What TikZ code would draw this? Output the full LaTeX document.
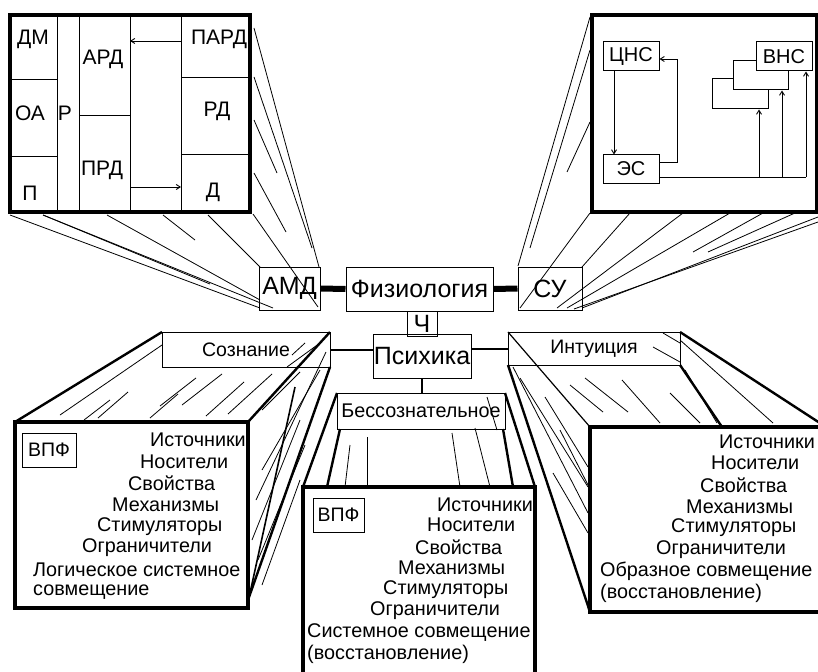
\documentclass[tikz,border=0pt]{standalone}
\usepackage{fontspec}
\setmainfont{Liberation Sans}
\usetikzlibrary{arrows.meta,calc}
\tikzset{
  frame/.style={line width=4pt},
  lbl/.style={draw, line width=1pt, inner sep=0pt, font=\fontsize{25}{25}\selectfont},
  sbox/.style={draw, line width=1pt, inner sep=0pt, font=\fontsize{20}{20}\selectfont},
  txt/.style={inner sep=0pt, font=\fontsize{21}{21}\selectfont},
  lst/.style={inner sep=0pt, anchor=west, font=\fontsize{19.8}{19.8}\selectfont},
  hl/.style={line width=0.8pt},
  edg/.style={line width=2.4pt},
  bus/.style={line width=1pt},
  arr/.style={-{Straight Barb[length=4pt,width=5pt]}, line width=0.9pt},
  heavy/.style={line width=6pt},
  link/.style={line width=2pt},
}
\begin{document}
\begin{tikzpicture}[x=1pt,y=-1pt]
\useasboundingbox (0,0) rectangle (818,671);

% ---------- projection lines: top-left frame -> AMD ----------
\draw[hl] (10,215) -- (260,308);
\draw[hl] (43,215) -- (273,308);
\draw[hl] (43,215) -- (210,284);
\draw[hl] (107,215) -- (260,300);
\draw[hl] (163,215) -- (195,240);
\draw[hl] (208,215) -- (260,267);
\draw[hl] (253,214) -- (318,307);
\draw[hl] (254,28) -- (319,267);
\draw[hl] (254,77) -- (312,248);
\draw[hl] (254,120) -- (277,173);
\draw[hl] (254,173) -- (286,232);

% ---------- projection lines: top-right frame -> SU ----------
\draw[hl] (590,17) -- (518,266);
\draw[hl] (590,50) -- (530,248);
\draw[hl] (590,122) -- (567,172);
\draw[hl] (590,213) -- (520,308);
\draw[hl] (630,213) -- (582,267);
\draw[hl] (683,213) -- (557,308);
\draw[hl] (730,213) -- (567,308);
\draw[hl] (763,213) -- (693,252);
\draw[hl] (795,213) -- (708,252);
\draw[hl] (818,217) -- (582,308);
\draw[hl] (818,222) -- (574,309);

% ---------- top-left frame ----------
\draw[frame] (10,15) rectangle (250,212);
\draw[bus] (57,15) -- (57,212) (79,15) -- (79,212) (130,15) -- (130,212) (181,15) -- (181,212);
\draw[bus] (10,80) -- (57,80) (10,157) -- (57,157) (79,116) -- (130,116)
           (181,78) -- (250,78) (181,155) -- (250,155);
\node[txt] (dm) at (33,39) {ДМ};
\node[txt] (oa) at (30,113) {ОА};
\node[txt] (pp) at (30,193) {П};
\node[txt] (rr) at (65,113) {Р};
\node[txt] (ard) at (103,59) {АРД};
\node[txt] (prd) at (102,170) {ПРД};
\node[txt] (pard) at (219,39) {ПАРД};
\node[txt] (rd) at (217,111) {РД};
\node[txt] (dd) at (213,192) {Д};
\coordinate (pardout) at (181,41);
\coordinate (ardin) at (130,41);
\coordinate (prdout) at (130,187);
\coordinate (ddin) at (181,187);
\draw[arr] (pardout) -- (ardin);
\draw[arr] (prdout) -- (ddin);

% ---------- top-right frame ----------
\draw[frame] (592,15) rectangle (817,212);
\node[sbox, minimum width=56pt, minimum height=30pt] (r3) at (740,94) {};
\node[sbox, fill=white, minimum width=55pt, minimum height=29pt] (r2) at (760.5,75.5) {};
\node[sbox, fill=white, minimum width=56pt, minimum height=29pt] (vns) at (784,56.5) {ВНС};
\node[sbox, minimum width=56pt, minimum height=29pt] (cns) at (631,56.5) {ЦНС};
\node[sbox, minimum width=56pt, minimum height=28pt] (es) at (631,169) {ЭС};
\draw[arr] (cns.south -| 614,0) -- (es.north -| 614,0);
\coordinate (fb1) at (677,162);
\coordinate (fb2) at (677,59);
\draw[arr] (es.east |- fb1) -- (fb1) -- (fb2) -- (cns.east |- fb2);
\coordinate (bus0) at (759,177);
\coordinate (bus1) at (782,177);
\coordinate (bus2) at (806,177);
\draw[bus] (es.east |- bus0) -- (bus2);
\draw[arr] (bus0) -- (r3.south -| bus0);
\draw[arr] (bus1) -- (r2.south -| bus1);
\draw[arr] (bus2) -- (vns.south -| bus2);

% ---------- Soznanie pyramid ----------
\draw[edg] (162,332) -- (15,422);
\draw[edg] (330,332) -- (248,422);
\draw[edg] (330,367) -- (248,600);
\draw[hl] (162,345) -- (60,415);
\draw[hl] (320,343) -- (287,367);
\draw[hl] (305,343) -- (292,355);
\draw[hl] (300,372) -- (262,410);
\draw[hl] (272,374) -- (228,414);
\draw[hl] (244,382) -- (206,416);
\draw[hl] (222,374) -- (182,405);
\draw[hl] (196,378) -- (160,406);
\draw[hl] (178,394) -- (150,418);
\draw[hl] (128,392) -- (98,418);
\draw[hl] (110,400) -- (84,420);
\draw[hl] (326,352) -- (256,500);
\draw[hl] (320,370) -- (262,470);
\draw[line width=1.6pt] (295,387) -- (250,593);
\draw[hl] (300,420) -- (252,540);
\draw[hl] (305,445) -- (258,560);
\draw[hl] (300,480) -- (262,585);

% ---------- Intuitsiya pyramid ----------
\draw[edg] (680,332) -- (826,427);
\draw[edg] (680,365) -- (722,427);
\draw[edg] (508,365) -- (590,612);
\draw[line width=1.2pt] (508,332) -- (590,427);
\draw[hl] (570,385) -- (603,412);
\draw[hl] (585,378) -- (628,412);
\draw[hl] (622,380) -- (660,423);
\draw[hl] (670,393) -- (700,423);
\draw[hl] (653,347) -- (680,362);
\draw[hl] (663,333) -- (680,343);
\draw[hl] (680,340) -- (773,423);
\draw[hl] (685,370) -- (717,423);
\draw[hl] (520,378) -- (588,487);
\draw[hl] (545,397) -- (588,467);
\draw[hl] (560,430) -- (588,485);
\draw[hl] (553,473) -- (588,533);
\draw[hl] (513,367) -- (588,513);

% ---------- Bessoznatelnoe pyramid ----------
\draw[edg] (337,393) -- (303,487);
\draw[edg] (340,429) -- (327,487);
\draw[edg] (503,429) -- (513,487);
\draw[edg] (505,393) -- (535,487);
\draw[hl] (350,445) -- (345,487);
\draw[hl] (367,437) -- (367,487);
\draw[hl] (452,433) -- (460,487);
\draw[hl] (475,428) -- (490,487);
\draw[hl] (487,397) -- (497,430);

% ---------- front boxes ----------
\draw[frame, fill=white] (15,422) rectangle (248,608);
\draw[frame, fill=white] (590,427) rectangle (830,612);
\draw[frame, fill=white] (303,690) -- (303,487) -- (535,487) -- (535,690);

% ---------- labels of the pyramids ----------
\node[lbl, font=\fontsize{19.5}{19.5}\selectfont, minimum width=168pt, minimum height=35pt] (soz) at (246,349.5) {Сознание};
\node[lbl, font=\fontsize{19.5}{19.5}\selectfont, minimum width=172pt, minimum height=33pt] (int) at (594,348.5) {Интуиция};
\node[lbl, font=\fontsize{19.8}{19.8}\selectfont, minimum width=168pt, minimum height=36pt] (bes) at (421,411) {Бессознательное};

\node[sbox, font=\fontsize{19.5}{19.5}\selectfont, minimum width=54pt, minimum height=34pt] (vpf1) at (49,450) {ВПФ};
\node[sbox, font=\fontsize{19.5}{19.5}\selectfont, minimum width=51pt, minimum height=34pt] (vpf2) at (338.5,515) {ВПФ};

% lists
\node[lst] (a1) at (150,440) {Источники};
\node[lst] (a2) at (140,462) {Носители};
\node[lst] (a3) at (128,483) {Свойства};
\node[lst] (a4) at (112,505) {Механизмы};
\node[lst] (a5) at (97,527) {Стимуляторы};
\node[lst] (a6) at (82,548) {Ограничители};
\node[lst] (a7) at (33,570) {Логическое системное};
\node[lst] (a8) at (33,592) {совмещение};

\node[lst] (b1) at (437,505) {Источники};
\node[lst] (b2) at (427,525) {Носители};
\node[lst] (b3) at (415,547) {Свойства};
\node[lst] (b4) at (398,568) {Механизмы};
\node[lst] (b5) at (383,590) {Стимуляторы};
\node[lst] (b6) at (370,611) {Ограничители};
\node[lst] (b7) at (307,633) {Системное совмещение};
\node[lst] (b8) at (307,654) {(восстановление)};

\node[lst] (c1) at (719,442) {Источники};
\node[lst] (c2) at (711,463) {Носители};
\node[lst] (c3) at (700,485) {Свойства};
\node[lst] (c4) at (686,507) {Механизмы};
\node[lst] (c5) at (671,528) {Стимуляторы};
\node[lst] (c6) at (656,550) {Ограничители};
\node[lst] (c7) at (600,571) {Образное совмещение};
\node[lst] (c8) at (600,593) {(восстановление)};

% ---------- central nodes ----------
\node[lbl, minimum width=61pt, minimum height=43pt] (amd) at (289.5,288.5) {АМД};
\node[lbl, minimum width=147pt, minimum height=44pt] (fiz) at (419.5,289) {Физиология};
\node[lbl, minimum width=64pt, minimum height=43pt] (su) at (550,288.5) {СУ};
\node[lbl, minimum width=30pt, minimum height=25pt] (ch) at (422,323.5) {Ч};
\node[lbl, minimum width=98pt, minimum height=44pt] (psy) at (422,356) {Психика};

\draw[heavy] (amd.east) -- (fiz.west);
\draw[heavy] (fiz.east) -- (su.west);
\draw[link] (soz.east) -- (soz.east -| psy.west);
\draw[link] (int.west) -- (int.west -| psy.east);
\draw[link] (psy.south) -- (psy.south |- bes.north);
\end{tikzpicture}
\end{document}
